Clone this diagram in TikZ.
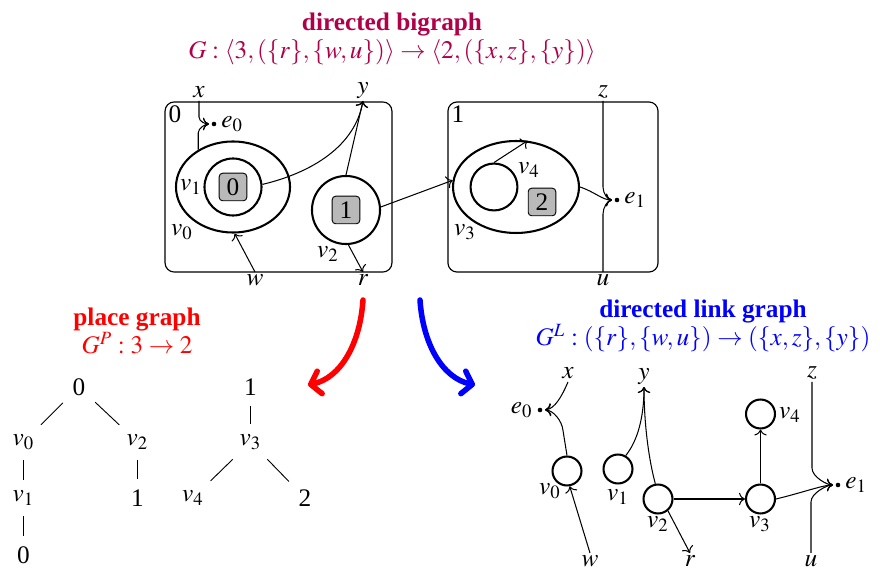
\documentclass[tikz,border=0pt]{standalone}
\usepackage{mathptmx}
\usepackage{fontspec}
\setmainfont{Liberation Serif}
\usepackage{xcolor}
\usetikzlibrary{arrows.meta,positioning,shapes.geometric}

\definecolor{bigcol}{RGB}{176,0,72}

\begin{document}
\begin{tikzpicture}[
  x=0.435pt, y=-0.435pt,
  every node/.style={font=\fontsize{11}{12}\selectfont},
  region/.style={rectangle, draw, line width=0.5pt, rounded corners=4pt, minimum width=98.7pt, minimum height=74pt},
  ctrl/.style={draw, line width=0.9pt, inner sep=0pt},
  ellctrl/.style={ctrl, ellipse},
  circctrl/.style={ctrl, circle},
  site/.style={rectangle, draw, line width=0.4pt, fill=gray!55, rounded corners=1.5pt, minimum size=12pt, inner sep=0pt},
  namelbl/.style={inner sep=1pt},
  edgedot/.style={circle, fill, inner sep=0pt, minimum size=2pt},
  link/.style={-To, line width=0.45pt},
  treeedge/.style={line width=0.4pt, shorten <=1pt, shorten >=1pt},
  bigarrow/.style={line width=2.4pt, line cap=round, -{Straight Barb[round, length=4pt, width=10pt]}}
]
\useasboundingbox (0,0) rectangle (880,570);

% DIRECTED BIGRAPH
\node[text=bigcol, align=center] (bigtitle) at (392,39) {%
  \textbf{directed bigraph}\\
  $G:\langle 3,(\{r\},\{w,u\})\rangle\to\langle 2,(\{x,z\},\{y\})\rangle$
};

\node[region] (root0) at (278.5,187) {};
\node[region, minimum width=91.4pt] (root1) at (553,187) {};
\node (rl0) at (175,114) {0};
\node (rl1) at (458,114) {1};

\node[ellctrl, minimum width=49.6pt, minimum height=39.6pt] (bv0) at (233,187) {};
\node[circctrl, minimum size=24.8pt] (bv1) at (233,187) {};
\node[site] (bs0) at (233,187) {0};
\node[circctrl, minimum size=29.6pt] (bv2) at (346,210) {};
\node[site] (bs1) at (346,210) {1};
\node[ellctrl, minimum width=54.8pt, minimum height=40pt] (bv3) at (516,187) {};
\node[circctrl, minimum size=20.4pt] (bv4) at (494,187) {};
\node[site] (bs2) at (542,202) {2};

\node (lbv0) at (182,232) {$v_0$};
\node (lbv1) at (191,187) {$v_1$};
\node (lbv2) at (328,254) {$v_2$};
\node (lbv3) at (465,232) {$v_3$};
\node (lbv4) at (529,170) {$v_4$};

\node[namelbl, anchor=south] (bx) at (199,101) {$x$};
\node[namelbl, anchor=south] (by) at (363,101) {$y$};
\node[namelbl, anchor=south] (bz) at (603,101) {$z$};
\node[namelbl, anchor=north] (bw) at (255,272) {$w$};
\node[namelbl, anchor=north] (br) at (363,272) {$r$};
\node[namelbl, anchor=north] (bu) at (603,272) {$u$};

\node[edgedot] (be0) at (214,124) {};
\node[right=-1.5pt of be0] (lbe0) {$e_0$};
\node[edgedot] (be1) at (617,200) {};
\node[right=-1.5pt of be1] (lbe1) {$e_1$};

\draw[link, shorten >=1pt] (bx.south) -- ++(0,16) .. controls +(0,5) and +(-5,0) .. (be0.west);
\draw[link, shorten >=1pt] (bv0.133) -- ++(0,-17) .. controls +(0,-5) and +(-5,0) .. (be0.west);
\draw[link] (bv1.5) .. controls +(50,-12) and +(-8,45) .. (by.south);
\draw[link] (bv2.north) -- (by.south);
\draw[link] (bw.north) -- (bv0.-88);
\draw[link] (bv2.-86) -- (br.north);
\draw[link] (bv2.5) -- (bv3.174);
\draw[link] (bv4.north) -- (bv3.76);
\draw[link, shorten >=1pt] (bz.south) -- ++(0,86) .. controls +(0,7) and +(-6,0) .. (be1.west);
\draw[link, shorten >=1pt] (bu.north) -- ++(0,-58) .. controls +(0,-7) and +(-6,0) .. (be1.west);
\draw[link, shorten >=1pt] (bv3.east) .. controls +(15,5) and +(-12,0) .. (be1.west);

% BIG ARROWS
\coordinate (pgfrom) at (363,300);
\coordinate (pgto) at (308,385);
\coordinate (lgfrom) at (420,300);
\coordinate (lgto) at (475,385);
\draw[bigarrow, red] (pgfrom) .. controls (360,345) and (340,378) .. (pgto);
\draw[bigarrow, blue] (lgfrom) .. controls (423,345) and (443,378) .. (lgto);

% PLACE GRAPH
\node[text=red, align=center] (pgtitle) at (137,331) {%
  \textbf{place graph}\\
  $G^P:3\to 2$
};

\node (p0) at (79,387) {0};
\node (pv0) at (23.5,442) {$v_0$};
\node (pv2) at (137.5,442) {$v_2$};
\node (pv1) at (23.5,498) {$v_1$};
\node (ps1) at (137.5,498) {1};
\node (ps0) at (23.5,555) {0};
\node (p1) at (250.5,387) {1};
\node (pv3) at (250.5,442) {$v_3$};
\node (pv4) at (193,498) {$v_4$};
\node (ps2) at (305,498) {2};

\foreach \a/\b in {p0/pv0, p0/pv2, pv0/pv1, pv2/ps1, pv1/ps0, p1/pv3, pv3/pv4, pv3/ps2}
  \draw[treeedge] (\a) -- (\b);

% DIRECTED LINK GRAPH
\node[text=blue, align=center] (lgtitle) at (703,326) {%
  \textbf{directed link graph}\\
  $G^L:(\{r\},\{w,u\})\to(\{x,z\},\{y\})$
};

\node[circctrl, minimum size=12.6pt] (lv0) at (567,471) {};
\node[circctrl, minimum size=12.6pt] (lv1) at (618,469) {};
\node[circctrl, minimum size=12.6pt] (lv2) at (658,499) {};
\node[circctrl, minimum size=12.6pt] (lv3) at (760.5,499) {};
\node[circctrl, minimum size=12.6pt] (lv4) at (760.5,414) {};

\node (llv0) at (550,491) {$v_0$};
\node (llv1) at (618,497) {$v_1$};
\node (llv2) at (658,524) {$v_2$};
\node (llv3) at (760,524) {$v_3$};
\node (llv4) at (790,415) {$v_4$};

\node[namelbl, anchor=south] (lx) at (568,382) {$x$};
\node[namelbl, anchor=south] (ly) at (644,387) {$y$};
\node[namelbl, anchor=south] (lz) at (812,382) {$z$};
\node[namelbl, anchor=north] (lw) at (590,553) {$w$};
\node[namelbl, anchor=north] (lr) at (690,553) {$r$};
\node[namelbl, anchor=north] (lu) at (811,553) {$u$};

\node[edgedot] (le0) at (540,410) {};
\node[left=-1.5pt of le0] (lle0) {$e_0$};
\node[edgedot] (le1) at (838,485) {};
\node[right=-1.5pt of le1] (lle1) {$e_1$};

\draw[link, shorten >=1pt] (lx.south) .. controls +(-6,14) and +(12,-1) .. (le0.east);
\draw[link, shorten >=1pt] (lv0.north) -- ++(-4,-25) .. controls +(-1,-10) and +(10,0) .. (le0.east);
\draw[link] (lv1.60) .. controls +(12,-15) and +(0,30) .. (ly.south);
\draw[link] (lv2.100) .. controls +(-8,-30) and +(0,30) .. (ly.south);
\draw[link] (lv2.-50) -- (lr.north);
\draw[link] (lw.north) -- (lv0.-80);
\draw[link] (lv2) -- (lv3);
\draw[link] (lv3) -- (lv4);
\draw[link, shorten >=1pt] (lz.south) -- ++(0,86) .. controls +(0,9) and +(-8,0) .. (le1.west);
\draw[link, shorten >=1pt] (lu.north) -- ++(0,-51) .. controls +(0,-9) and +(-8,0) .. (le1.west);
\draw[link, shorten >=1pt] (lv3.east) .. controls +(25,-6) and +(-12,0) .. (le1.west);

\end{tikzpicture}
\end{document}
